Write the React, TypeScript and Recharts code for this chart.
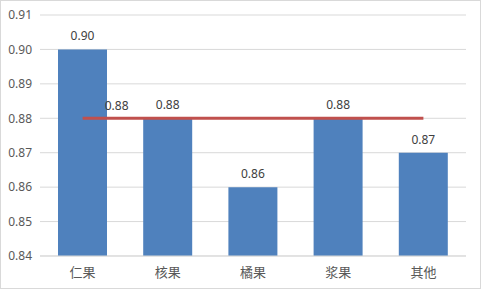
import React from 'react';
import { ComposedChart, Bar, Line, XAxis, YAxis, CartesianGrid, LabelList } from 'recharts';

const categories = ['仁果', '核果', '橘果', '浆果', '其他'];
const values = [0.9, 0.88, 0.86, 0.88, 0.87];
const average = [0.88, 0.88, 0.88, 0.88, 0.88];
const yTicks = [0.84, 0.85, 0.86, 0.87, 0.88, 0.89, 0.9, 0.91];

const data = categories.map((name, i) => ({ name, value: values[i], avg: average[i] }));

const FONT = '"Noto Sans", "Noto Sans CJK SC", sans-serif';

// Excel shows the average's label once, just right of the first point
const AvgLabel = (props: any) => {
  const { x, y, index, value } = props;
  if (index !== 0) return null;
  return (
    <text x={x + 34} y={y - 8} textAnchor="middle" fontSize={12} fill="#404040" fontFamily={FONT}>
      {Number(value).toFixed(2)}
    </text>
  );
};

export default function App() {
  return (
    <div
      style={{
        position: 'fixed', left: 0, top: 0, width: 481, height: 289,
        boxSizing: 'border-box', border: '1px solid #D9D9D9', background: '#fff',
      }}
    >
      <div style={{ position: 'absolute', left: -1, top: -1 }}>
        <ComposedChart width={481} height={289} data={data} margin={{ top: 15, right: 15, left: 0, bottom: 0 }}>
          <CartesianGrid vertical={false} stroke="#D9D9D9" />
          <XAxis
            dataKey="name"
            height={33}
            axisLine={{ stroke: '#D9D9D9' }}
            tickLine={false}
            tick={{ fontSize: 13, fill: '#595959', fontFamily: FONT }}
            tickMargin={6}
          />
          <YAxis
            width={40}
            domain={[0.84, 0.91]}
            ticks={yTicks}
            interval={0}
            axisLine={false}
            tickLine={false}
            tickFormatter={(v: number) => v.toFixed(2)}
            tick={{ fontSize: 12, fill: '#595959', fontFamily: FONT }}
          />
          <Bar dataKey="value" fill="#4F81BD" barSize={49} isAnimationActive={false}>
            <LabelList
              dataKey="value"
              position="top"
              offset={9}
              formatter={(v: any) => Number(v).toFixed(2)}
              style={{ fontSize: 12, fill: '#404040', fontFamily: FONT }}
            />
          </Bar>
          <Line
            dataKey="avg"
            stroke="#C0504D"
            strokeWidth={3}
            dot={false}
            activeDot={false}
            isAnimationActive={false}
          >
            <LabelList dataKey="avg" content={AvgLabel} />
          </Line>
        </ComposedChart>
      </div>
    </div>
  );
}
